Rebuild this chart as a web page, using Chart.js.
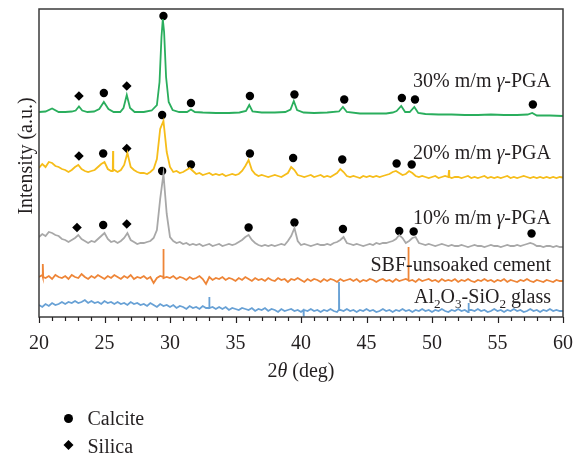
<!DOCTYPE html>
<html>
<head>
<meta charset="utf-8">
<script src="https://cdn.jsdelivr.net/npm/chart.js@4.4.1/dist/chart.umd.min.js"></script>
<style>
  html, body { margin: 0; padding: 0; background: #fff; }
  canvas { display: block; }
</style>
</head>
<body>
<canvas id="xrdChart" width="578" height="457"></canvas>
<script>
const CHART = document.getElementById('xrdChart')

// 2theta sampling used by the noisy scans (rows of 2 degrees)
const angles = [
  20, 20.25, 20.5, 20.75, 21, 21.25, 21.5, 21.75,
  22, 22.25, 22.5, 22.75, 23, 23.25, 23.5, 23.75,
  24, 24.25, 24.5, 24.75, 25, 25.25, 25.5, 25.75,
  26, 26.25, 26.5, 26.75, 27, 27.25, 27.5, 27.75,
  28, 28.25, 28.5, 28.75, 29, 29.25, 29.5, 29.75,
  30, 30.25, 30.5, 30.75, 31, 31.25, 31.5, 31.75,
  32, 32.25, 32.5, 32.75, 33, 33.25, 33.5, 33.75,
  34, 34.25, 34.5, 34.75, 35, 35.25, 35.5, 35.75,
  36, 36.25, 36.5, 36.75, 37, 37.25, 37.5, 37.75,
  38, 38.25, 38.5, 38.75, 39, 39.25, 39.5, 39.75,
  40, 40.25, 40.5, 40.75, 41, 41.25, 41.5, 41.75,
  42, 42.25, 42.5, 42.75, 43, 43.25, 43.5, 43.75,
  44, 44.25, 44.5, 44.75, 45, 45.25, 45.5, 45.75,
  46, 46.25, 46.5, 46.75, 47, 47.25, 47.5, 47.75,
  48, 48.25, 48.5, 48.75, 49, 49.25, 49.5, 49.75,
  50, 50.25, 50.5, 50.75, 51, 51.25, 51.5, 51.75,
  52, 52.25, 52.5, 52.75, 53, 53.25, 53.5, 53.75,
  54, 54.25, 54.5, 54.75, 55, 55.25, 55.5, 55.75,
  56, 56.25, 56.5, 56.75, 57, 57.25, 57.5, 57.75,
  58, 58.25, 58.5, 58.75, 59, 59.25, 59.5, 59.75,
  60
]

// 30% m/m gamma-PGA (smooth scan, own sampling)
const pga30Angles = [20, 20.5, 21, 21.5, 22, 22.5, 22.8, 23.05, 23.3, 23.7,
  24.2, 24.6, 24.95, 25.3, 25.7, 26.2, 26.45, 26.7, 26.95, 27.3,
  28, 28.6, 29, 29.2, 29.35, 29.45, 29.55, 29.7, 29.9, 30.2,
  30.7, 31.3, 31.6, 31.9, 32.5, 33.5, 34.5, 35.3, 35.8, 36.05,
  36.3, 37, 38, 38.8, 39.2, 39.45, 39.7, 40.2, 41, 42,
  42.9, 43.2, 43.5, 44.5, 45.5, 46.5, 47, 47.3, 47.65, 47.95,
  48.3, 48.65, 48.95, 49.5, 50.5, 51.5, 52.5, 53.5, 54.5, 55.5,
  56.5, 57.3, 57.65, 58, 59, 60]
const pga30 = [205, 205.5, 208.5, 205, 205, 205.5, 206.5, 210.5, 206.5, 205,
  205.5, 208, 215, 208, 205, 205, 209, 222, 209, 205,
  205, 206.5, 212, 235, 280, 298, 285, 240, 215, 207,
  205, 205, 207.5, 205, 204.5, 204, 204, 204.5, 206, 212,
  205.5, 204.5, 204.5, 205, 207.5, 216, 207, 204.5, 204, 204.5,
  205.5, 210, 205, 203.5, 203.5, 203.5, 204.5, 206, 211, 205,
  205, 210, 204, 203, 202.5, 202.5, 202, 202, 202.5, 202,
  202, 202.5, 204, 201.5, 201.5, 201]

// 20% m/m gamma-PGA
const pga20 = [
  149, 153, 150, 155, 154, 151, 150, 148,
  147, 145, 147, 150, 152, 148, 146, 145,
  146, 147, 150, 153, 155, 148, 146, 147,
  145, 147, 152, 164, 150, 147, 145, 144,
  144, 143, 145, 148, 158, 188, 196, 165,
  150, 145, 146, 144, 145, 147, 149, 146,
  143, 144, 142, 143, 144, 142, 143, 142,
  143, 141, 142, 143, 142, 143, 146, 151,
  157, 147, 143, 141, 142, 141, 140, 141,
  142, 141, 140, 142, 144, 150, 147, 142,
  141, 140, 141, 142, 140, 141, 142, 140,
  141, 140, 142, 144, 148, 145, 141, 140,
  141, 140, 139, 141, 140, 141, 140, 141,
  140, 141, 142, 143, 145, 146, 144, 142,
  143, 146, 144, 141, 140, 141, 140, 139,
  140, 141, 139, 140, 141, 140, 139, 140,
  140, 139, 140, 141, 139, 140, 139, 140,
  141, 139, 140, 139, 140, 139, 140, 141,
  139, 140, 139, 140, 141, 140, 139, 140,
  139, 140, 139, 140, 139, 140, 139, 140,
  139.5
]
const pga20Spikes = [[25.63, 146], [25.65, 166], [25.67, 147], [51.28, 140], [51.3, 147], [51.32, 140]]

// 10% m/m gamma-PGA
const pga10 = [
  80, 83, 81, 85, 84, 82, 81, 78,
  77, 75, 77, 79, 82, 78, 76, 74,
  76, 75, 78, 81, 84, 78, 75, 76,
  74, 76, 79, 84, 77, 75, 73, 74,
  74, 75, 76, 79, 87, 118, 143, 103,
  80, 76, 74, 75, 73, 74, 72, 73,
  72, 73, 71, 72, 73, 71, 72, 73,
  71, 72, 73, 72, 73, 75, 77, 80,
  82, 77, 74, 72, 71, 72, 71, 72,
  71, 72, 73, 72, 76, 81, 89, 76,
  72, 73, 72, 71, 72, 73, 72, 72,
  73, 72, 74, 75, 77, 80, 74, 73,
  72, 73, 72, 71, 72, 73, 72, 74,
  73, 74, 74, 75, 76, 78, 82, 79,
  74, 76, 79, 80, 74, 73, 72, 73,
  72, 71, 72, 73, 72, 71, 72, 71,
  71, 72, 71, 70, 71, 72, 71, 71,
  70, 71, 72, 71, 71, 70, 71, 72,
  71, 71, 72, 71, 72, 73, 74, 73,
  71, 71, 70, 71, 71, 70, 71, 70,
  70
]

// SBF-unsoaked cement
const sbfCement = [
  40, 42, 39, 41, 38, 42, 40, 39,
  41, 38, 42, 40, 39, 43, 40, 38,
  41, 39, 42, 40, 38, 41, 39, 42,
  40, 38, 41, 39, 42, 38, 40, 39,
  41, 38, 40, 34, 39, 41, 38, 40,
  39, 41, 38, 40, 39, 37, 40, 38,
  39, 41, 38, 33, 40, 37, 39, 38,
  40, 37, 39, 38, 36, 39, 37, 40,
  38, 36, 39, 37, 38, 36, 39, 37,
  36, 39, 37, 38, 35, 38, 37, 39,
  37, 35, 38, 36, 38, 37, 35, 38,
  36, 38, 37, 35, 38, 36, 37, 38,
  36, 38, 35, 37, 36, 38, 37, 35,
  37, 38, 36, 37, 35, 38, 36, 37,
  38, 36, 37, 35, 38, 36, 37, 38,
  36, 37, 35, 38, 36, 37, 36, 38,
  35, 37, 36, 38, 36, 35, 37, 36,
  38, 36, 37, 35, 37, 36, 38, 35,
  37, 36, 35, 37, 36, 38, 36, 35,
  37, 36, 35, 37, 36, 35, 37, 36,
  36
]
const sbfSpikes = [[20.28, 40], [20.3, 53], [20.32, 40], [29.48, 40], [29.5, 68], [29.52, 39], [48.18, 37], [48.2, 70], [48.22, 37]]

// Al2O3-SiO2 glass
const glass = [
  12, 10, 13, 11, 14, 12, 13, 15,
  13, 15, 14, 16, 14, 15, 17, 14,
  16, 14, 15, 13, 16, 14, 15, 13,
  15, 13, 14, 12, 15, 13, 14, 12,
  13, 11, 14, 12, 10, 13, 11, 12,
  10, 12, 9, 11, 10, 8, 11, 9,
  10, 8, 11, 9, 9, 10, 8, 10,
  8, 10, 7, 9, 8, 7, 9, 8,
  7, 9, 6, 8, 7, 9, 6, 8,
  7, 5, 8, 6, 7, 8, 6, 7,
  5, 7, 6, 8, 6, 7, 5, 7,
  6, 8, 6, 5, 7, 6, 8, 6,
  7, 5, 7, 6, 8, 6, 7, 5,
  6, 8, 6, 7, 5, 7, 6, 8,
  6, 7, 5, 7, 6, 8, 6, 7,
  5, 7, 6, 8, 6, 5, 7, 6,
  8, 6, 7, 5, 7, 6, 8, 6,
  7, 5, 6, 8, 6, 7, 5, 7,
  6, 8, 6, 7, 5, 6, 8, 6,
  7, 5, 7, 6, 8, 6, 7, 6,
  6
]
const glassSpikes = [[32.98, 9], [33, 20], [33.02, 9], [40.18, 7], [40.2, 0.5], [40.22, 6], [42.88, 7], [42.9, 35], [42.92, 7], [52.78, 7], [52.8, 14], [52.82, 7]]

// phase markers [2theta, level]
const calcite30 = [[24.95, 224], [29.5, 301], [31.6, 214], [36.1, 221], [39.5, 222.5], [43.3, 217.5], [47.7, 219], [48.7, 217.5], [57.7, 212.5]]
const silica30 = [[23.05, 221], [26.7, 231]]
const calcite20 = [[24.9, 163.5], [29.4, 202], [31.6, 152.5], [36.1, 163.5], [39.4, 159], [43.15, 157.5], [47.3, 153.5], [48.45, 152.5]]
const silica20 = [[23.05, 161], [26.7, 168.5]]
const calcite10 = [[24.9, 92], [29.4, 146], [36.0, 89.5], [39.5, 94.5], [43.2, 88], [47.5, 86], [48.6, 85.5], [57.6, 83.5]]
const silica10 = [[22.9, 89.5], [26.7, 93]]

const xTicks = [20, 25, 30, 35, 40, 45, 50, 55, 60]
const traceLabels = [
  [{t: '30% m/m '}, {t: 'γ', italic: true}, {t: '-PGA'}],
  [{t: '20% m/m '}, {t: 'γ', italic: true}, {t: '-PGA'}],
  [{t: '10% m/m '}, {t: 'γ', italic: true}, {t: '-PGA'}],
  [{t: 'SBF-unsoaked cement'}],
  [{t: 'Al'}, {t: '2', sub: true}, {t: 'O'}, {t: '3', sub: true}, {t: '-SiO'}, {t: '2', sub: true}, {t: ' glass'}]
]
const legendNames = ['Calcite', 'Silica']

const SERIF = "'Liberation Serif', 'Times New Roman', serif"
const INK = '#231f20'

function toPoints(xs, ys) {
  return xs.map((x, i) => ({x: x, y: ys[i]}))
}
function withSpikes(xs, ys, extra) {
  const pts = toPoints(xs, ys).concat(extra.map(p => ({x: p[0], y: p[1]})))
  pts.sort((a, b) => a.x - b.x)
  return pts
}
function markerPts(list) {
  return list.map(p => ({x: p[0], y: p[1]}))
}

function trace(data, color) {
  return {data: data, borderColor: color, backgroundColor: color, borderWidth: 1.8,
    pointRadius: 0, tension: 0, fill: false}
}
function markers(list, style, r) {
  return {data: markerPts(list), showLine: false, pointStyle: style, pointRadius: r,
    pointBorderWidth: 0, pointBackgroundColor: '#000', pointBorderColor: '#000',
    pointHoverRadius: r}
}

function drawRich(ctx, parts, x, y, align, size) {
  const fonts = parts.map(p => (p.italic ? 'italic ' : '') + (p.sub ? size * 0.66 : size) + 'px ' + SERIF)
  let w = 0
  parts.forEach((p, i) => { ctx.font = fonts[i]; w += ctx.measureText(p.t).width })
  let cx = align === 'right' ? x - w : (align === 'center' ? x - w / 2 : x)
  ctx.textAlign = 'left'
  ctx.textBaseline = 'alphabetic'
  parts.forEach((p, i) => {
    ctx.font = fonts[i]
    ctx.fillText(p.t, cx, y + (p.sub ? size * 0.25 : 0))
    cx += ctx.measureText(p.t).width
  })
}

const decor = {
  id: 'decor',
  afterDatasetsDraw(chart) {
    const ctx = chart.ctx
    const a = chart.chartArea
    const xs = chart.scales.x
    ctx.save()
    // frame
    ctx.strokeStyle = '#3b3b3b'
    ctx.lineWidth = 1.5
    ctx.strokeRect(a.left, a.top, a.right - a.left, a.bottom - a.top)
    // major / minor ticks
    ctx.lineWidth = 1.2
    ctx.strokeStyle = '#231f20'
    for (let v = 20; v <= 60; v++) {
      const px = Math.round(xs.getPixelForValue(v)) + 0.5
      ctx.beginPath()
      ctx.moveTo(px, a.bottom)
      ctx.lineTo(px, a.bottom + (v % 5 === 0 ? 6 : 4))
      ctx.stroke()
    }
    // trace labels
    ctx.fillStyle = INK
    const baselines = [87, 159, 224, 271, 302.5]
    traceLabels.forEach((parts, i) => drawRich(ctx, parts, a.right - 12, baselines[i], 'right', 20))
    ctx.restore()
  },
  afterDraw(chart) {
    const ctx = chart.ctx
    const a = chart.chartArea
    ctx.save()
    ctx.fillStyle = INK
    // x title
    drawRich(ctx, [{t: '2'}, {t: 'θ', italic: true}, {t: ' (deg)'}], (a.left + a.right) / 2, 377, 'center', 20)
    // y title
    ctx.translate(31.5, 156)
    ctx.rotate(-Math.PI / 2)
    drawRich(ctx, [{t: 'Intensity (a.u.)'}], 0, 0, 'center', 20)
    ctx.restore()
    // legend
    ctx.save()
    ctx.fillStyle = '#000'
    ctx.beginPath()
    ctx.arc(68.5, 418.5, 4.5, 0, Math.PI * 2)
    ctx.fill()
    ctx.beginPath()
    ctx.moveTo(68.5, 440)
    ctx.lineTo(73.5, 445)
    ctx.lineTo(68.5, 450)
    ctx.lineTo(63.5, 445)
    ctx.closePath()
    ctx.fill()
    ctx.fillStyle = INK
    drawRich(ctx, [{t: legendNames[0]}], 87.5, 425, 'left', 20)
    drawRich(ctx, [{t: legendNames[1]}], 87.5, 452.5, 'left', 20)
    ctx.restore()
  }
}

let xrdChart = new Chart(CHART, {
  type: 'line',
  data: {
    datasets: [
      trace(toPoints(pga30Angles, pga30), '#2aae5d'),
      trace(withSpikes(angles, pga20, pga20Spikes), '#f6bd1a'),
      trace(toPoints(angles, pga10), '#a8a8a8'),
      trace(withSpikes(angles, sbfCement, sbfSpikes), '#ee8537'),
      trace(withSpikes(angles, glass, glassSpikes), '#68a1d5'),
      markers(calcite30, 'circle', 4.2),
      markers(silica30, 'rectRot', 4.8),
      markers(calcite20, 'circle', 4.2),
      markers(silica20, 'rectRot', 4.8),
      markers(calcite10, 'circle', 4.2),
      markers(silica10, 'rectRot', 4.8)
    ]
  },
  options: {
    responsive: false,
    animation: false,
    devicePixelRatio: 1,
    layout: {padding: {left: 39, right: 15, top: 9, bottom: 0}},
    plugins: {legend: {display: false}, tooltip: {enabled: false}},
    scales: {
      x: {
        type: 'linear', min: 20, max: 60,
        afterBuildTicks(scale) { scale.ticks = xTicks.map(v => ({value: v})) },
        afterFit(scale) { scale.height = 140 },
        grid: {display: true, drawOnChartArea: false, drawTicks: true, tickLength: 12, color: 'rgba(0,0,0,0)'},
        border: {display: false},
        ticks: {padding: 3, color: INK, font: {family: SERIF, size: 20}, maxRotation: 0, autoSkip: false}
      },
      y: {min: 0, max: 308, display: false}
    }
  },
  plugins: [decor]
})
</script>
</body>
</html>
